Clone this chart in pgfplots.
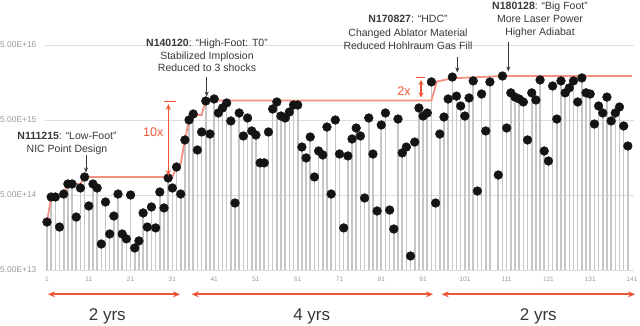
\documentclass[border=0pt]{standalone}
\usepackage{fontspec}
\setmainfont{Liberation Sans}
\usepackage{pgfplots}
\pgfplotsset{compat=1.18}
\usepackage{pgfplotstable}
\usetikzlibrary{arrows.meta}

\definecolor{stemc}{HTML}{C6C6C6}
\definecolor{dotc}{HTML}{141414}
\definecolor{envc}{HTML}{F39080}
\definecolor{redc}{HTML}{EF5636}
\definecolor{gridc}{HTML}{DDDDDD}
\definecolor{tickc}{HTML}{9A9A9A}
\definecolor{txtc}{HTML}{383838}

\pgfplotstableread{
shot value
1 2.18e14
2 4.70e14
3 4.70e14
4 1.87e14
5 5.15e14
6 7.01e14
7 7.01e14
8 2.54e14
9 6.20e14
10 8.69e14
11 3.57e14
12 7.01e14
13 6.20e14
14 1.11e14
15 4.03e14
16 1.51e14
17 2.62e14
18 5.15e14
19 1.51e14
20 1.30e14
21 5.00e14
22 9.83e13
23 1.22e14
24 2.88e14
25 1.87e14
26 3.46e14
27 1.82e14
28 5.48e14
29 3.36e14
30 8.43e14
31 6.20e14
32 1.18e15
33 5.15e14
34 2.71e15
35 5.00e15
36 6.01e15
37 1.99e15
38 3.46e15
39 8.96e15
40 3.25e15
41 9.53e15
42 6.20e15
43 7.23e15
44 8.43e15
45 4.85e15
46 3.91e14
47 6.20e15
48 3.06e15
49 5.32e15
50 3.57e15
51 3.15e15
52 1.34e15
53 1.34e15
54 3.46e15
55 7.01e15
56 8.69e15
57 5.65e15
58 5.32e15
59 6.39e15
60 7.92e15
61 7.92e15
62 2.18e15
63 1.56e15
64 2.97e15
65 8.69e14
66 1.93e15
67 1.71e15
68 4.03e15
69 5.15e14
70 5.00e15
71 1.76e15
72 1.82e14
73 1.66e15
74 2.79e15
75 3.91e15
76 3.06e15
77 4.56e14
78 5.32e15
79 1.76e15
80 3.06e14
81 4.29e15
82 6.20e15
83 3.15e14
84 1.76e14
85 5.15e15
86 1.82e15
87 2.18e15
88 7.69e13
89 2.54e15
90 7.23e15
91 5.65e15
92 6.20e15
93 1.61e16
94 3.91e14
95 3.25e15
96 5.48e15
97 9.53e15
98 1.87e16
99 1.04e16
100 7.69e15
101 5.65e15
102 9.83e15
103 1.66e16
104 5.65e14
105 1.11e16
106 3.57e15
107 1.61e16
109 9.24e14
110 1.93e16
111 3.91e15
112 1.15e16
113 1.01e16
114 9.53e15
115 8.69e15
116 2.71e15
117 1.15e16
118 9.24e15
119 1.71e16
120 1.93e15
121 1.42e15
122 1.42e16
123 5.15e15
124 1.66e16
125 1.15e16
126 1.34e16
127 1.66e16
128 8.69e15
129 1.82e16
130 1.15e16
131 1.11e16
132 4.42e15
133 7.69e15
134 6.20e15
135 1.01e16
136 4.85e15
137 6.20e15
138 7.45e15
139 4.16e15
140 2.25e15
}\shots

\begin{document}
\begin{tikzpicture}
\begin{axis}[
  at={(44.9pt,55pt)}, anchor=south west,
  scale only axis, width=589.2pt, height=225pt,
  xmin=0.5, xmax=141.5,
  ymode=log, ymin=5e13, ymax=5e16,
  log origin y=infty,
  ytick={5e13,5e14,5e15,5e16},
  yticklabels={5.00E+13,5.00E+14,5.00E+15,5.00E+16},
  xtick={1,11,...,141},
  xticklabels={1,11,21,31,41,51,61,71,81,91,101,111,121,131,141},
  yminorticks=false,
  ymajorgrids, grid style={draw=gridc, line width=0.6pt},
  axis line style={draw=none},
  major tick length=0pt,
  tick label style={text=tickc},
  yticklabel style={font=\fontsize{8.4}{9}\selectfont, xshift=-5pt},
  xticklabel style={font=\fontsize{6.5}{8}\selectfont, yshift=-3.5pt},
]
\addplot[ycomb, draw=stemc, line width=1.6pt, mark=none] table[x=shot,y=value] {\shots};
\addplot[envc, line width=1.8pt, mark=none] coordinates {
 (1,2.18e14) (2,4.7e14) (4,4.7e14) (5,5.15e14) (6,7.01e14) (9,7.01e14) (10,8.69e14)
 (31,8.69e14) (32,1.18e15) (33,1.3e15) (34,2.71e15) (35,5.0e15) (36,5.83e15) (38,5.83e15)
 (39,9.1e15) (93,9.1e15) (94.3,1.63e16) (98,1.8e16) (110,1.93e16) (141,1.93e16)};
\addplot[only marks, mark=*, mark size=4.4pt, draw=dotc, fill=dotc] table[x=shot,y=value] {\shots};
\end{axis}

\begin{scope}[shift={(0pt,325pt)}, x=1pt, y=-1pt]
 % black annotation arrows
 \draw[txtc, line width=1pt, -{Stealth[length=5pt,width=4pt]}] (86,155) -- (86,172.5);
 \draw[txtc, line width=1pt, -{Stealth[length=5pt,width=4pt]}] (206.7,77) -- (206.7,96.5);
 \draw[txtc, line width=1pt, -{Stealth[length=5pt,width=4pt]}] (457.3,57) -- (457.3,72.5);
 \draw[txtc, line width=1pt, -{Stealth[length=5pt,width=4pt]}] (508.3,42) -- (508.3,71.5);
 % annotation texts
 \begin{scope}[every node/.style={text=txtc, font=\fontsize{10.5}{13}\selectfont, anchor=base, inner sep=0pt}]
  \node at (67,139) {\textbf{N111215}: “Low-Foot”};
  \node at (67,152.3) {NIC Point Design};
  \node at (207,46.3) {\textbf{N140120}: “High-Foot: T0”};
  \node at (207,59) {Stabilized Implosion};
  \node at (207,71.7) {Reduced to 3 shocks};
  \node at (408,23) {\textbf{N170827}: “HDC”};
  \node at (408,36) {Changed Ablator Material};
  \node at (408,49) {Reduced Hohlraum Gas Fill};
  \node at (540,9) {\textbf{N180128}: “Big Foot”};
  \node at (540,22.3) {More Laser Power};
  \node at (540,35.7) {Higher Adiabat};
 \end{scope}
 % 10x
 \draw[redc, line width=1.5pt] (164,101.7) -- (176,101.7);
 \draw[redc, line width=1.3pt, {Stealth[length=6pt,width=5pt]}-{Stealth[length=6pt,width=5pt]}] (168.3,104) -- (168.3,176);
 \node[redc, font=\fontsize{12.5}{14}\selectfont, anchor=base, inner sep=0pt] at (153.3,136) {10x};
 % 2x
 \draw[redc, line width=1.5pt] (416,77.3) -- (424.5,77.3);
 \draw[redc, line width=1.5pt, {Stealth[length=5pt,width=5pt]}-{Stealth[length=5pt,width=5pt]}] (421,80) -- (421,97.5);
 \node[redc, font=\fontsize{12.5}{14}\selectfont, anchor=base, inner sep=0pt] at (404,95.5) {2x};
 % bottom period arrows
 \begin{scope}[redc, line width=1.8pt, {Stealth[length=7pt,width=6pt]}-{Stealth[length=7pt,width=6pt]}]
  \draw (48,294.3) -- (180,294.3);
  \draw (191.7,294.3) -- (433,294.3);
  \draw (441.7,294.3) -- (635,294.3);
 \end{scope}
 \begin{scope}[every node/.style={text=txtc, font=\fontsize{17}{19}\selectfont, anchor=base, inner sep=0pt}]
  \node at (107.3,320) {2 yrs};
  \node at (311.7,320) {4 yrs};
  \node at (538.3,320) {2 yrs};
 \end{scope}
\end{scope}
\pgfresetboundingbox
\path[use as bounding box] (0pt,0pt) rectangle (640pt,325pt);
\end{tikzpicture}
\end{document}
